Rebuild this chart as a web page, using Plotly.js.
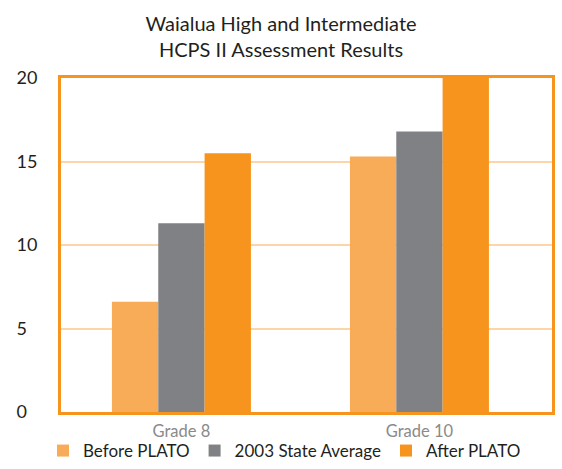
<!DOCTYPE html>
<html>
<head>
<meta charset="utf-8">
<script src="https://cdn.plot.ly/plotly-3.0.1.min.js"></script>
<style>html,body{margin:0;padding:0;background:#fff;}#chart{width:562px;height:469px;}</style>
</head>
<body>
<div id="chart"></div>
<script>
const categories = ["Grade 8", "Grade 10"];
const seriesNames = ["Before PLATO", "2003 State Average", "After PLATO"];
const beforePlato = [6.6, 15.3];
const stateAverage = [11.3, 16.8];
const afterPlato = [15.5, 20];
const tickValues = [0, 5, 10, 15, 20];
const tickLabels = ["0\u2007", "5\u2007", "10", "15", "20"];
const colors = ["#F8AC58", "#808184", "#F7941E"];

const FONT = "Lato, 'Open Sans', sans-serif";
const seriesValues = [beforePlato, stateAverage, afterPlato];
const traces = seriesNames.map((name, i) => ({
  type: "bar",
  name: name,
  x: categories,
  y: seriesValues[i],
  marker: {color: colors[i], line: {width: 0}},
  hoverinfo: "x+y+name"
}));

const layout = {
  width: 562, height: 469,
  margin: {l: 61, r: 10, t: 78, b: 57},
  paper_bgcolor: "#fff", plot_bgcolor: "#fff",
  font: {family: FONT, color: "#231f20"},
  title: {
    text: "Waialua High and Intermediate<br>HCPS II Assessment Results",
    font: {family: FONT, size: 20, color: "#231f20"},
    x: 0.5, xref: "container", xanchor: "center",
    y: 0.934, yref: "container", yanchor: "middle"
  },
  barmode: "group",
  bargap: 0.416,
  bargroupgap: 0,
  xaxis: {
    type: "category",
    range: [-0.506, 1.557],
    showline: true, mirror: true, linecolor: "#F7941E", linewidth: 3,
    showgrid: false, zeroline: false, ticks: "",
    tickfont: {family: FONT, size: 16.5, color: "#8a8a8a"},
    ticklabelstandoff: 2
  },
  yaxis: {
    range: [0, 20],
    tickmode: "array", tickvals: tickValues, ticktext: tickLabels,
    showline: true, mirror: true, linecolor: "#F7941E", linewidth: 3,
    showgrid: true, gridcolor: "#FCD5A8", gridwidth: 2,
    zeroline: false, ticks: "",
    tickfont: {family: FONT, size: 18, color: "#231f20"},
    ticklabelstandoff: 17
  },
  legend: {
    orientation: "h",
    x: 43 / 562, xref: "container", xanchor: "left",
    y: -0.035, yref: "container", yanchor: "bottom",
    font: {family: FONT, size: 17, color: "#231f20"},
    itemwidth: 30,
    traceorder: "normal",
    bgcolor: "rgba(0,0,0,0)"
  },
  showlegend: true
};

Plotly.newPlot("chart", traces, layout, {displayModeBar: false, staticPlot: true});
</script>
</body>
</html>
